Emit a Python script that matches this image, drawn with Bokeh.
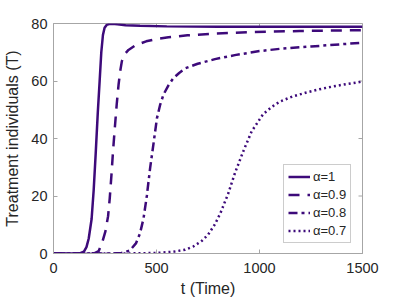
import math
from bokeh.plotting import figure
from bokeh.models import Legend, LegendItem, FixedTicker, Range1d
from bokeh.embed import file_html
from bokeh.resources import INLINE

# alpha = 1
t1 = [0, 100, 130, 147, 160, 171, 185, 195, 205, 215, 224, 232, 240, 248, 258, 270, 285, 310, 350, 420, 550, 800, 1100, 1500]
T1 = [0, 0, 0.1, 0.6, 2.2, 5.2, 12, 22, 35, 49, 60, 70, 76, 78.5, 79.5, 79.8, 79.9, 79.7, 79.4, 79.2, 79.0, 78.9, 78.9, 78.9]
# alpha = 0.9
t2 = [0, 150, 200, 219, 235, 252, 265, 273, 281, 289, 298, 307, 316, 324, 332, 345, 364, 400, 450, 500, 558, 650, 784, 950, 1195, 1500]
T2 = [0, 0, 0.1, 0.8, 3.5, 7.7, 13, 19.2, 27, 35.6, 44, 52, 58.8, 63.5, 66.9, 69.3, 70.8, 72.5, 73.8, 74.6, 75.2, 75.9, 76.5, 77.0, 77.4, 77.7]
# alpha = 0.8
t3 = [0, 250, 300, 330, 370, 400, 420, 437, 453, 469, 486, 502, 518, 534, 558, 582, 610, 639, 700, 784, 880, 1000, 1100, 1250, 1400, 1500]
T3 = [0, 0, 0.05, 0.2, 1, 3.5, 7, 12.2, 20, 29.7, 38.5, 47, 51.8, 55.3, 58.5, 61, 62.8, 64.4, 66, 67.6, 69, 70.4, 71.2, 72, 72.8, 73.3]
# alpha = 0.7
t4 = [0, 300, 400, 500, 580, 639, 680, 720, 750, 784, 810, 848, 881, 921, 962, 1018, 1060, 1098, 1160, 1228, 1290, 1356, 1420, 1500]
T4 = [0, 0, 0.05, 0.2, 0.6, 1.3, 2.5, 4.4, 6.5, 10.2, 14, 20.8, 28, 35.5, 42.5, 48.5, 51, 52.8, 54.6, 56, 57.1, 58.1, 58.9, 59.8]

labels = ["α=1", "α=0.9", "α=0.8", "α=0.7"]
x_ticks = [0, 500, 1000, 1500]
y_ticks = [0, 20, 40, 60, 80]
x_max = 1500
y_max = 80

COLOR = "#3d0a7a"
AX = "#a6a6a6"
TXT = "#262626"
FONT = "Liberation Sans"

p = figure(width=399, height=299, output_backend="svg", toolbar_location=None,
           x_range=Range1d(0, x_max), y_range=Range1d(0, y_max),
           min_border_left=53, min_border_right=37, min_border_top=23, min_border_bottom=46)
p.grid.visible = False
p.outline_line_color = AX
p.background_fill_color = "white"
p.border_fill_color = "white"

for ax, ticks in ((p.xaxis[0], x_ticks), (p.yaxis[0], y_ticks)):
    ax.ticker = FixedTicker(ticks=ticks)
    ax.axis_line_color = AX
    ax.major_tick_line_color = AX
    ax.major_tick_in = 4
    ax.major_tick_out = 0
    ax.minor_tick_line_color = None
    ax.major_label_text_font = FONT
    ax.major_label_text_color = TXT
    ax.major_label_text_font_size = "14.5px"
    ax.axis_label_text_font = FONT
    ax.axis_label_text_color = TXT
    ax.axis_label_text_font_style = "normal"
    ax.axis_label_text_font_size = "16px"

p.xaxis.axis_label = "t (Time)"
p.yaxis.axis_label = "Treatment individuals (T)"
p.xaxis.major_label_standoff = 9
p.xaxis.axis_label_standoff = 4
p.yaxis.major_label_standoff = 6
p.yaxis.axis_label_standoff = 7

# inward ticks on the top and right borders (box on)
p.scatter(x_ticks, [y_max] * len(x_ticks), marker="dash", size=8, angle=math.pi / 2,
          line_color=AX, line_width=1)
p.scatter([x_max] * len(y_ticks), y_ticks, marker="dash", size=8,
          line_color=AX, line_width=1)

r1 = p.line(t1, T1, line_color=COLOR, line_width=2.5)
r2 = p.line(t2, T2, line_color=COLOR, line_width=2.5, line_dash="11 8")
r3 = p.line(t3, T3, line_color=COLOR, line_width=2.5, line_dash="9 4 3 4")
r4 = p.line(t4, T4, line_color=COLOR, line_width=2.5, line_dash="2 3")

legend = Legend(items=[LegendItem(label=l, renderers=[r]) for l, r in zip(labels, [r1, r2, r3, r4])],
                location=(230, 10))
legend.label_text_font = FONT
legend.label_text_font_size = "13px"
legend.label_text_color = TXT
legend.label_height = 15
legend.glyph_height = 15
legend.glyph_width = 22
legend.label_standoff = 3
legend.spacing = 3
legend.padding = 4
legend.margin = 0
legend.border_line_color = "#999999"
legend.background_fill_color = "white"
p.add_layout(legend, "center")

open("out.html", "w").write(file_html(p, INLINE))
